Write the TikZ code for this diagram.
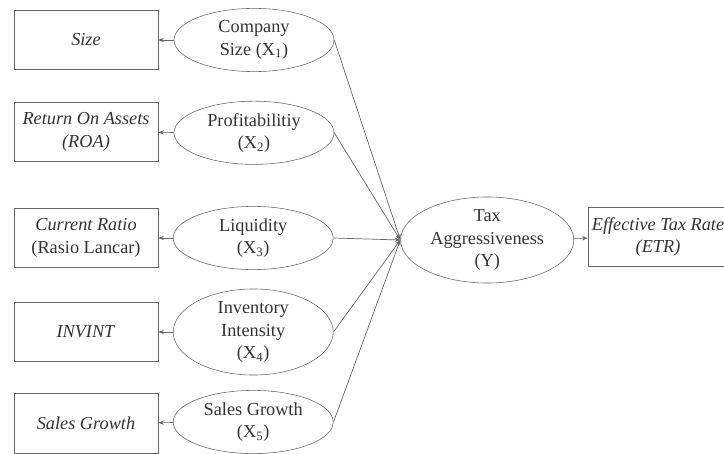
\documentclass[tikz,border=0pt]{standalone}
\usepackage{fontspec}
\setmainfont{Liberation Serif}
\usetikzlibrary{shapes.geometric,arrows.meta}
\tikzset{every node/.style={text=black!80, font=\fontsize{13}{16}\selectfont, align=center},
  indicator/.style={rectangle, draw=black!60, minimum width=3.6cm, minimum height=1.48cm, inner sep=1pt},
  construct/.style={ellipse, draw=black!60, minimum width=4cm, minimum height=1.58cm, inner sep=0pt},
  link/.style={draw=black!60, line width=0.5pt, -{Stealth[length=4pt,width=3pt]}}}

\begin{document}
\begin{tikzpicture}
  \useasboundingbox (0,0) rectangle (18.1,-11.35);
  \node[indicator] (size)   at (2.15, -1.0)  {\textit{Size}};
  \node[indicator] (roa)    at (2.15, -3.3)  {\textit{Return On Assets}\\\textit{(ROA)}};
  \node[indicator] (cr)     at (2.15, -5.95) {\textit{Current Ratio}\\(Rasio Lancar)};
  \node[indicator] (invint) at (2.15, -8.3)  {\textit{INVINT}};
  \node[indicator] (sg)     at (2.15,-10.58) {\textit{Sales Growth}};
  \node[construct] (x1) at (6.35, -1.0)  {Company\\Size (X\textsubscript{1})};
  \node[construct] (x2) at (6.35, -3.32) {Profitabilitiy\\(X\textsubscript{2})};
  \node[construct] (x3) at (6.33, -5.95) {Liquidity\\(X\textsubscript{3})};
  \node[construct, minimum height=1.68cm] (x4) at (6.33, -8.3)  {Inventory\\Intensity\\(X\textsubscript{4})};
  \node[construct] (x5) at (6.33,-10.55) {Sales Growth\\(X\textsubscript{5})};
  \node[construct, minimum width=4.33cm, minimum height=1.88cm] (y) at (12.18,-6.0) {Tax\\Aggressiveness\\(Y)};
  \node[indicator, minimum width=3.5cm] (etr) at (16.45,-5.92) {\textit{Effective Tax Rate}\\\textit{(ETR)}};
  \draw[link] (x1) -- (size);
  \draw[link] (x2) -- (roa);
  \draw[link] (x3) -- (cr);
  \draw[link] (x4) -- (invint);
  \draw[link] (x5) -- (sg);
  \draw[link] (x1.east) -- (y.west);
  \draw[link] (x2.east) -- (y.west);
  \draw[link] (x3.east) -- (y.west);
  \draw[link] (x4.east) -- (y.west);
  \draw[link] (x5.east) -- (y.west);
  \draw[link] (y) -- (etr);
\end{tikzpicture}
\end{document}
